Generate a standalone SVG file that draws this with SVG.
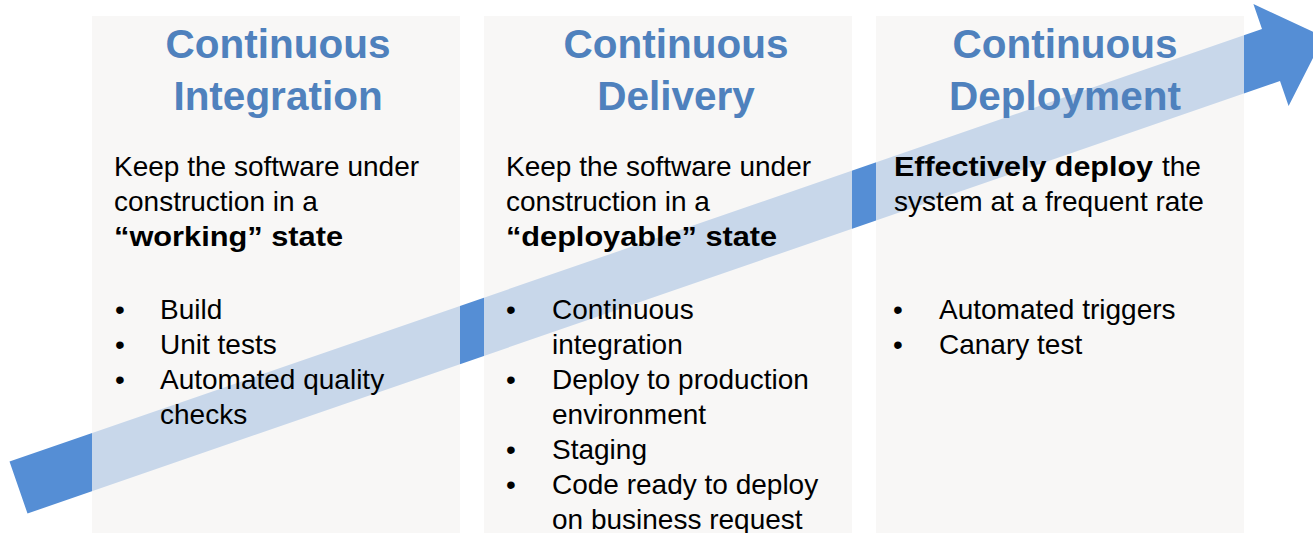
<svg xmlns="http://www.w3.org/2000/svg" width="1313" height="533" viewBox="0 0 1313 533">
<style>
.panel{fill:#F5F4F2;fill-opacity:0.72}
.title{font-family:"Liberation Sans",Arial,sans-serif;font-size:40.5px;font-weight:bold;fill:#4F81BD;text-anchor:middle}
.body{font-family:"Liberation Sans",Arial,sans-serif;font-size:28px;fill:#000}
.b{font-weight:bold}
</style>
<rect width="1313" height="533" fill="#FFFFFF"/>
<g id="arrow">
<polygon points="9.5,461.5 1262,29 1253.4,4 1323.9,36.7 1288.6,106 1280,81 27.5,513.5" fill="#558ED5"/>
</g>
<g id="continuous-integration">
<rect class="panel" x="92" y="16" width="368" height="517"/>
<text class="title" x="278" y="58">Continuous</text>
<text class="title" x="278" y="110">Integration</text>
<text class="body" x="114" y="176">Keep the software under</text>
<text class="body" x="114" y="211">construction in a</text>
<text class="body b" x="114" y="246" textLength="229" lengthAdjust="spacingAndGlyphs">“working” state</text>
<text class="body" x="115" y="319">•</text><text class="body" x="160" y="319">Build</text>
<text class="body" x="115" y="354">•</text><text class="body" x="160" y="354">Unit tests</text>
<text class="body" x="115" y="389">•</text><text class="body" x="160" y="389">Automated quality</text>
<text class="body" x="160" y="424">checks</text>
</g>
<g id="continuous-delivery">
<rect class="panel" x="484" y="16" width="368" height="517"/>
<text class="title" x="676" y="58">Continuous</text>
<text class="title" x="676" y="110">Delivery</text>
<text class="body" x="506" y="176">Keep the software under</text>
<text class="body" x="506" y="211">construction in a</text>
<text class="body b" x="506" y="246" textLength="271" lengthAdjust="spacingAndGlyphs">“deployable” state</text>
<text class="body" x="506" y="319">•</text><text class="body" x="552" y="319">Continuous</text>
<text class="body" x="552" y="354">integration</text>
<text class="body" x="506" y="389">•</text><text class="body" x="552" y="389">Deploy to production</text>
<text class="body" x="552" y="424">environment</text>
<text class="body" x="506" y="459">•</text><text class="body" x="552" y="459">Staging</text>
<text class="body" x="506" y="494">•</text><text class="body" x="552" y="494">Code ready to deploy</text>
<text class="body" x="552" y="529">on business request</text>
</g>
<g id="continuous-deployment">
<rect class="panel" x="876" y="16" width="368" height="517"/>
<text class="title" x="1065" y="58">Continuous</text>
<text class="title" x="1065" y="110">Deployment</text>
<text class="body b" x="894" y="176" textLength="259" lengthAdjust="spacingAndGlyphs">Effectively deploy</text>
<text class="body" x="1162" y="176">the</text>
<text class="body" x="894" y="211">system at a frequent rate</text>
<text class="body" x="893" y="319">•</text><text class="body" x="939" y="319">Automated triggers</text>
<text class="body" x="893" y="354">•</text><text class="body" x="939" y="354">Canary test</text>
</g>
</svg>
